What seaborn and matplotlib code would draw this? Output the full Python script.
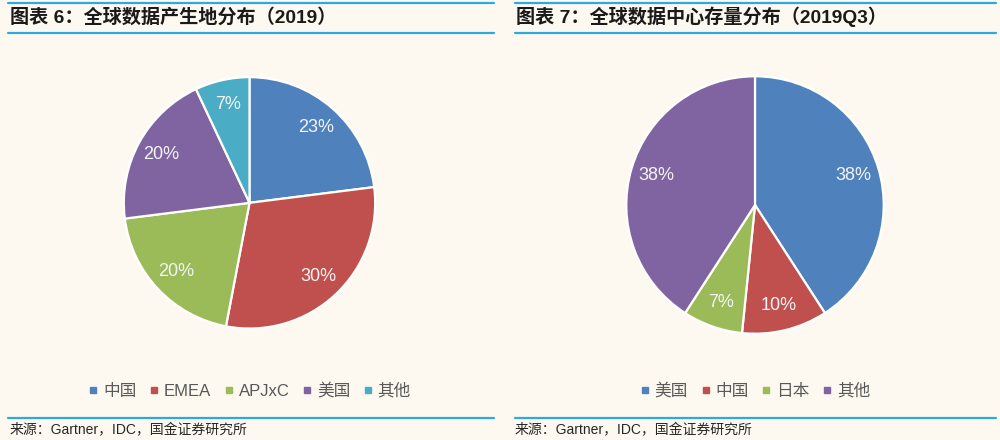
import matplotlib
matplotlib.use("Agg")
import matplotlib.pyplot as plt
import seaborn as sns
from matplotlib.lines import Line2D

# data
left_title = "图表 6：全球数据产生地分布（2019）"
left_labels = ["中国", "EMEA", "APJxC", "美国", "其他"]
left_values = [23, 30, 20, 20, 7]

right_title = "图表 7：全球数据中心存量分布（2019Q3）"
right_labels = ["美国", "中国", "日本", "其他"]
right_values = [38, 10, 7, 38]

source_text = "来源：Gartner，IDC，国金证券研究所"

office_colors = ["#4F81BD", "#C0504D", "#9BBB59", "#8064A2", "#4BACC6"]
bg = "#FEF9F0"
rule_color = "#2BA9E1"

sns.set_theme(style="white")
plt.rcParams["font.family"] = ["Liberation Sans", "Noto Sans CJK SC", "DejaVu Sans"]

fig = plt.figure(figsize=(10, 4.4), dpi=100, facecolor=bg)


def draw_pie(rect, values, labels, palette, legend_y):
    ax = fig.add_axes(rect)
    ax.set_facecolor(bg)
    total = sum(values)
    wedges, texts, autotexts = ax.pie(
        values,
        colors=palette,
        startangle=90,
        counterclock=False,
        autopct=lambda p: f"{round(p * total / 100):.0f}%",
        pctdistance=0.8,
        wedgeprops={"edgecolor": "white", "linewidth": 1.6},
        textprops={"color": "#F4F4F4", "fontsize": 13},
    )
    ax.set_xlim(-1.01, 1.01)
    ax.set_ylim(-1.01, 1.01)
    ax.set_aspect("equal")
    handles = [
        Line2D([], [], marker="s", linestyle="", markersize=4.5, color=c)
        for c in palette
    ]
    ax.legend(
        handles, labels, loc="center", ncol=len(labels),
        bbox_to_anchor=(0.5, legend_y), frameon=False, fontsize=12,
        labelcolor="#595959", handletextpad=0.3, columnspacing=0.75,
        handlelength=0.6,
    )
    return ax


# left panel
draw_pie([0.1225, 0.2505, 0.254, 0.577], left_values, left_labels,
         office_colors[:5], (440 - 391 - 110) / 254)
# right panel
draw_pie([0.625, 0.2386, 0.26, 0.591], right_values, right_labels,
         office_colors[:4], (440 - 391 - 105) / 260)


def hline(x0, x1, y_px):
    y = 1 - y_px / 440
    fig.add_artist(Line2D([x0 / 1000, x1 / 1000], [y, y], color=rule_color,
                          linewidth=1.6, transform=fig.transFigure))


for x0, x1 in [(8, 494), (515, 996)]:
    hline(x0, x1, 3.5)
    hline(x0, x1, 33.5)
    hline(x0, x1, 418)

fig.text(0.010, 1 - 17 / 440, left_title, fontsize=13.8, fontweight="bold",
         color="#1A1A1A", va="center", ha="left")
fig.text(0.516, 1 - 17 / 440, right_title, fontsize=13.8, fontweight="bold",
         color="#1A1A1A", va="center", ha="left")
fig.text(0.010, 1 - 430 / 440, source_text, fontsize=10, color="#262626",
         va="center", ha="left")
fig.text(0.515, 1 - 430 / 440, source_text, fontsize=10, color="#262626",
         va="center", ha="left")

fig.savefig("out.png", dpi=100, facecolor=bg)
